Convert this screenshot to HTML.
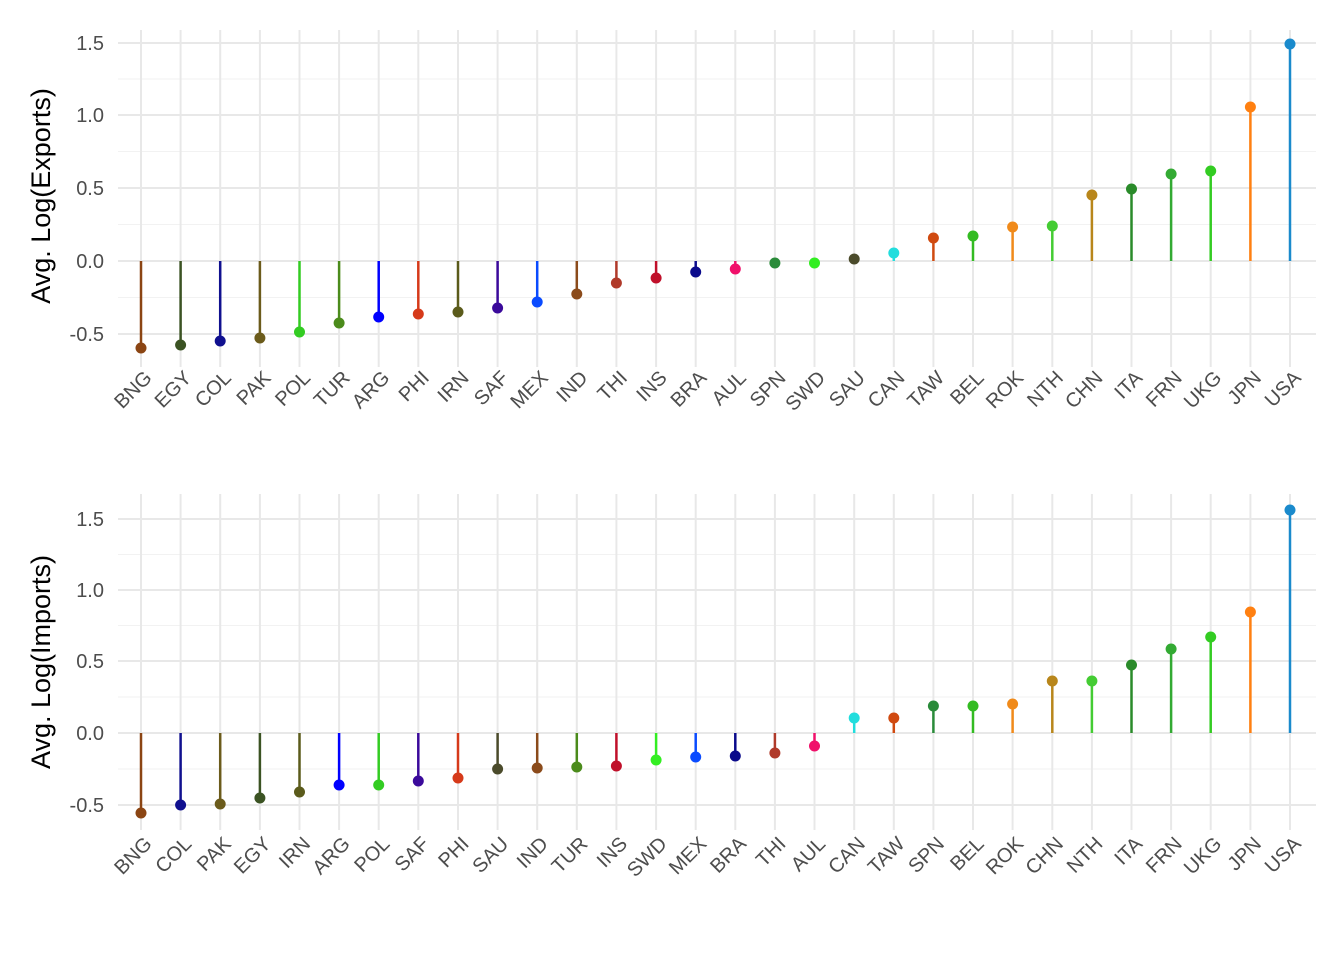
<!DOCTYPE html>
<html><head><meta charset="utf-8"><style>body{margin:0;background:#fff}svg{display:block}</style></head><body>
<svg width="1344" height="960" xmlns="http://www.w3.org/2000/svg" font-family="Liberation Sans, Arial, sans-serif">
<rect width="1344" height="960" fill="#fff"/>
<g stroke="#f2f2f2" stroke-width="1">
<line x1="118" x2="1316" y1="297.5" y2="297.5"/><line x1="118" x2="1316" y1="224.5" y2="224.5"/><line x1="118" x2="1316" y1="151.5" y2="151.5"/><line x1="118" x2="1316" y1="79" y2="79"/>
<line x1="118" x2="1316" y1="769" y2="769"/><line x1="118" x2="1316" y1="697" y2="697"/><line x1="118" x2="1316" y1="625.5" y2="625.5"/><line x1="118" x2="1316" y1="554.5" y2="554.5"/>
</g>
<g stroke="#e8e8e8" stroke-width="2">
<line x1="118" x2="1316" y1="43" y2="43"/><line x1="118" x2="1316" y1="115" y2="115"/><line x1="118" x2="1316" y1="188" y2="188"/><line x1="118" x2="1316" y1="261" y2="261"/><line x1="118" x2="1316" y1="334" y2="334"/>
<line x1="118" x2="1316" y1="519" y2="519"/><line x1="118" x2="1316" y1="590" y2="590"/><line x1="118" x2="1316" y1="661" y2="661"/><line x1="118" x2="1316" y1="733" y2="733"/><line x1="118" x2="1316" y1="805" y2="805"/>
</g>
<g stroke="#e8e8e8" stroke-width="2">
<path d="M141 30V367M180.6 30V367M220.2 30V367M259.9 30V367M299.5 30V367M339.1 30V367M378.7 30V367M418.3 30V367M458 30V367M497.6 30V367M537.2 30V367M576.8 30V367M616.4 30V367M656.1 30V367M695.7 30V367M735.3 30V367M774.9 30V367M814.5 30V367M854.2 30V367M893.8 30V367M933.4 30V367M973 30V367M1012.6 30V367M1052.3 30V367M1091.9 30V367M1131.5 30V367M1171.1 30V367M1210.7 30V367M1250.4 30V367M1290 30V367"/>
<path d="M141 494V830M180.6 494V830M220.2 494V830M259.9 494V830M299.5 494V830M339.1 494V830M378.7 494V830M418.3 494V830M458 494V830M497.6 494V830M537.2 494V830M576.8 494V830M616.4 494V830M656.1 494V830M695.7 494V830M735.3 494V830M774.9 494V830M814.5 494V830M854.2 494V830M893.8 494V830M933.4 494V830M973 494V830M1012.6 494V830M1052.3 494V830M1091.9 494V830M1131.5 494V830M1171.1 494V830M1210.7 494V830M1250.4 494V830M1290 494V830"/>
</g>
<g font-size="20" fill="#4d4d4d" text-anchor="end">
<text x="104" y="50">1.5</text><text x="104" y="122">1.0</text><text x="104" y="195">0.5</text><text x="104" y="268">0.0</text><text x="104" y="341">-0.5</text>
<text x="104" y="526">1.5</text><text x="104" y="597">1.0</text><text x="104" y="668">0.5</text><text x="104" y="740">0.0</text><text x="104" y="812">-0.5</text>
</g>
<text transform="translate(50,196) rotate(-90)" font-size="27" text-anchor="middle" fill="#000">Avg. Log(Exports)</text>
<text transform="translate(50,662) rotate(-90)" font-size="27" text-anchor="middle" fill="#000">Avg. Log(Imports)</text>
<g stroke-width="2.5">
<line x1="141" x2="141" y1="261" y2="348" stroke="#8B4513"/>
<line x1="180.6" x2="180.6" y1="261" y2="345" stroke="#3B5323"/>
<line x1="220.2" x2="220.2" y1="261" y2="341" stroke="#10108F"/>
<line x1="259.9" x2="259.9" y1="261" y2="338" stroke="#6B5B1B"/>
<line x1="299.5" x2="299.5" y1="261" y2="332" stroke="#33CC22"/>
<line x1="339.1" x2="339.1" y1="261" y2="323" stroke="#4B8B1B"/>
<line x1="378.7" x2="378.7" y1="261" y2="317" stroke="#0000FF"/>
<line x1="418.3" x2="418.3" y1="261" y2="314" stroke="#D63A1A"/>
<line x1="458" x2="458" y1="261" y2="312" stroke="#5B5B1B"/>
<line x1="497.6" x2="497.6" y1="261" y2="308" stroke="#3B0A9B"/>
<line x1="537.2" x2="537.2" y1="261" y2="302" stroke="#0A4BFF"/>
<line x1="576.8" x2="576.8" y1="261" y2="294" stroke="#8B4B1B"/>
<line x1="616.4" x2="616.4" y1="261" y2="283" stroke="#B03A2A"/>
<line x1="656.1" x2="656.1" y1="261" y2="278" stroke="#C0102A"/>
<line x1="695.7" x2="695.7" y1="261" y2="272" stroke="#0A0A8B"/>
<line x1="735.3" x2="735.3" y1="261" y2="269" stroke="#F0106A"/>
<line x1="854.2" x2="854.2" y1="261" y2="259" stroke="#4B4B2B"/>
<line x1="893.8" x2="893.8" y1="261" y2="253" stroke="#22DDDD"/>
<line x1="933.4" x2="933.4" y1="261" y2="238" stroke="#D04A10"/>
<line x1="973" x2="973" y1="261" y2="236" stroke="#33BB22"/>
<line x1="1012.6" x2="1012.6" y1="261" y2="227" stroke="#F08A1A"/>
<line x1="1052.3" x2="1052.3" y1="261" y2="226" stroke="#44CC33"/>
<line x1="1091.9" x2="1091.9" y1="261" y2="195" stroke="#B8861B"/>
<line x1="1131.5" x2="1131.5" y1="261" y2="189" stroke="#2A8B2A"/>
<line x1="1171.1" x2="1171.1" y1="261" y2="174" stroke="#33AA33"/>
<line x1="1210.7" x2="1210.7" y1="261" y2="171" stroke="#33CC22"/>
<line x1="1250.4" x2="1250.4" y1="261" y2="107" stroke="#FF8011"/>
<line x1="1290" x2="1290" y1="261" y2="44" stroke="#1A8ACC"/>
</g>
<g>
<circle cx="141" cy="348" r="5.5" fill="#8B4513"/>
<circle cx="180.6" cy="345" r="5.5" fill="#3B5323"/>
<circle cx="220.2" cy="341" r="5.5" fill="#10108F"/>
<circle cx="259.9" cy="338" r="5.5" fill="#6B5B1B"/>
<circle cx="299.5" cy="332" r="5.5" fill="#33CC22"/>
<circle cx="339.1" cy="323" r="5.5" fill="#4B8B1B"/>
<circle cx="378.7" cy="317" r="5.5" fill="#0000FF"/>
<circle cx="418.3" cy="314" r="5.5" fill="#D63A1A"/>
<circle cx="458" cy="312" r="5.5" fill="#5B5B1B"/>
<circle cx="497.6" cy="308" r="5.5" fill="#3B0A9B"/>
<circle cx="537.2" cy="302" r="5.5" fill="#0A4BFF"/>
<circle cx="576.8" cy="294" r="5.5" fill="#8B4B1B"/>
<circle cx="616.4" cy="283" r="5.5" fill="#B03A2A"/>
<circle cx="656.1" cy="278" r="5.5" fill="#C0102A"/>
<circle cx="695.7" cy="272" r="5.5" fill="#0A0A8B"/>
<circle cx="735.3" cy="269" r="5.5" fill="#F0106A"/>
<circle cx="774.9" cy="263" r="5.5" fill="#2A8B3A"/>
<circle cx="814.5" cy="263" r="5.5" fill="#33EE22"/>
<circle cx="854.2" cy="259" r="5.5" fill="#4B4B2B"/>
<circle cx="893.8" cy="253" r="5.5" fill="#22DDDD"/>
<circle cx="933.4" cy="238" r="5.5" fill="#D04A10"/>
<circle cx="973" cy="236" r="5.5" fill="#33BB22"/>
<circle cx="1012.6" cy="227" r="5.5" fill="#F08A1A"/>
<circle cx="1052.3" cy="226" r="5.5" fill="#44CC33"/>
<circle cx="1091.9" cy="195" r="5.5" fill="#B8861B"/>
<circle cx="1131.5" cy="189" r="5.5" fill="#2A8B2A"/>
<circle cx="1171.1" cy="174" r="5.5" fill="#33AA33"/>
<circle cx="1210.7" cy="171" r="5.5" fill="#33CC22"/>
<circle cx="1250.4" cy="107" r="5.5" fill="#FF8011"/>
<circle cx="1290" cy="44" r="5.5" fill="#1A8ACC"/>
</g>
<g stroke-width="2.5">
<line x1="141" x2="141" y1="733" y2="813" stroke="#8B4513"/>
<line x1="180.6" x2="180.6" y1="733" y2="805" stroke="#10108F"/>
<line x1="220.2" x2="220.2" y1="733" y2="804" stroke="#6B5B1B"/>
<line x1="259.9" x2="259.9" y1="733" y2="798" stroke="#3B5323"/>
<line x1="299.5" x2="299.5" y1="733" y2="792" stroke="#5B5B1B"/>
<line x1="339.1" x2="339.1" y1="733" y2="785" stroke="#0000FF"/>
<line x1="378.7" x2="378.7" y1="733" y2="785" stroke="#33CC22"/>
<line x1="418.3" x2="418.3" y1="733" y2="781" stroke="#3B0A9B"/>
<line x1="458" x2="458" y1="733" y2="778" stroke="#D63A1A"/>
<line x1="497.6" x2="497.6" y1="733" y2="769" stroke="#4B4B2B"/>
<line x1="537.2" x2="537.2" y1="733" y2="768" stroke="#8B4B1B"/>
<line x1="576.8" x2="576.8" y1="733" y2="767" stroke="#4B8B1B"/>
<line x1="616.4" x2="616.4" y1="733" y2="766" stroke="#C0102A"/>
<line x1="656.1" x2="656.1" y1="733" y2="760" stroke="#33EE22"/>
<line x1="695.7" x2="695.7" y1="733" y2="757" stroke="#0A4BFF"/>
<line x1="735.3" x2="735.3" y1="733" y2="756" stroke="#0A0A8B"/>
<line x1="774.9" x2="774.9" y1="733" y2="753" stroke="#B03A2A"/>
<line x1="814.5" x2="814.5" y1="733" y2="746" stroke="#F0106A"/>
<line x1="854.2" x2="854.2" y1="733" y2="718" stroke="#22DDDD"/>
<line x1="893.8" x2="893.8" y1="733" y2="718" stroke="#D04A10"/>
<line x1="933.4" x2="933.4" y1="733" y2="706" stroke="#2A8B3A"/>
<line x1="973" x2="973" y1="733" y2="706" stroke="#33BB22"/>
<line x1="1012.6" x2="1012.6" y1="733" y2="704" stroke="#F08A1A"/>
<line x1="1052.3" x2="1052.3" y1="733" y2="681" stroke="#B8861B"/>
<line x1="1091.9" x2="1091.9" y1="733" y2="681" stroke="#44CC33"/>
<line x1="1131.5" x2="1131.5" y1="733" y2="665" stroke="#2A8B2A"/>
<line x1="1171.1" x2="1171.1" y1="733" y2="649" stroke="#33AA33"/>
<line x1="1210.7" x2="1210.7" y1="733" y2="637" stroke="#33CC22"/>
<line x1="1250.4" x2="1250.4" y1="733" y2="612" stroke="#FF8011"/>
<line x1="1290" x2="1290" y1="733" y2="510" stroke="#1A8ACC"/>
</g>
<g>
<circle cx="141" cy="813" r="5.5" fill="#8B4513"/>
<circle cx="180.6" cy="805" r="5.5" fill="#10108F"/>
<circle cx="220.2" cy="804" r="5.5" fill="#6B5B1B"/>
<circle cx="259.9" cy="798" r="5.5" fill="#3B5323"/>
<circle cx="299.5" cy="792" r="5.5" fill="#5B5B1B"/>
<circle cx="339.1" cy="785" r="5.5" fill="#0000FF"/>
<circle cx="378.7" cy="785" r="5.5" fill="#33CC22"/>
<circle cx="418.3" cy="781" r="5.5" fill="#3B0A9B"/>
<circle cx="458" cy="778" r="5.5" fill="#D63A1A"/>
<circle cx="497.6" cy="769" r="5.5" fill="#4B4B2B"/>
<circle cx="537.2" cy="768" r="5.5" fill="#8B4B1B"/>
<circle cx="576.8" cy="767" r="5.5" fill="#4B8B1B"/>
<circle cx="616.4" cy="766" r="5.5" fill="#C0102A"/>
<circle cx="656.1" cy="760" r="5.5" fill="#33EE22"/>
<circle cx="695.7" cy="757" r="5.5" fill="#0A4BFF"/>
<circle cx="735.3" cy="756" r="5.5" fill="#0A0A8B"/>
<circle cx="774.9" cy="753" r="5.5" fill="#B03A2A"/>
<circle cx="814.5" cy="746" r="5.5" fill="#F0106A"/>
<circle cx="854.2" cy="718" r="5.5" fill="#22DDDD"/>
<circle cx="893.8" cy="718" r="5.5" fill="#D04A10"/>
<circle cx="933.4" cy="706" r="5.5" fill="#2A8B3A"/>
<circle cx="973" cy="706" r="5.5" fill="#33BB22"/>
<circle cx="1012.6" cy="704" r="5.5" fill="#F08A1A"/>
<circle cx="1052.3" cy="681" r="5.5" fill="#B8861B"/>
<circle cx="1091.9" cy="681" r="5.5" fill="#44CC33"/>
<circle cx="1131.5" cy="665" r="5.5" fill="#2A8B2A"/>
<circle cx="1171.1" cy="649" r="5.5" fill="#33AA33"/>
<circle cx="1210.7" cy="637" r="5.5" fill="#33CC22"/>
<circle cx="1250.4" cy="612" r="5.5" fill="#FF8011"/>
<circle cx="1290" cy="510" r="5.5" fill="#1A8ACC"/>
</g>
<g font-size="20" fill="#4d4d4d" text-anchor="end">
<text transform="translate(153,379) rotate(-45)">BNG</text>
<text transform="translate(192.6,379) rotate(-45)">EGY</text>
<text transform="translate(232.2,379) rotate(-45)">COL</text>
<text transform="translate(271.9,379) rotate(-45)">PAK</text>
<text transform="translate(311.5,379) rotate(-45)">POL</text>
<text transform="translate(351.1,379) rotate(-45)">TUR</text>
<text transform="translate(390.7,379) rotate(-45)">ARG</text>
<text transform="translate(430.3,379) rotate(-45)">PHI</text>
<text transform="translate(470,379) rotate(-45)">IRN</text>
<text transform="translate(509.6,379) rotate(-45)">SAF</text>
<text transform="translate(549.2,379) rotate(-45)">MEX</text>
<text transform="translate(588.8,379) rotate(-45)">IND</text>
<text transform="translate(628.4,379) rotate(-45)">THI</text>
<text transform="translate(668.1,379) rotate(-45)">INS</text>
<text transform="translate(707.7,379) rotate(-45)">BRA</text>
<text transform="translate(747.3,379) rotate(-45)">AUL</text>
<text transform="translate(786.9,379) rotate(-45)">SPN</text>
<text transform="translate(826.5,379) rotate(-45)">SWD</text>
<text transform="translate(866.2,379) rotate(-45)">SAU</text>
<text transform="translate(905.8,379) rotate(-45)">CAN</text>
<text transform="translate(945.4,379) rotate(-45)">TAW</text>
<text transform="translate(985,379) rotate(-45)">BEL</text>
<text transform="translate(1024.6,379) rotate(-45)">ROK</text>
<text transform="translate(1064.3,379) rotate(-45)">NTH</text>
<text transform="translate(1103.9,379) rotate(-45)">CHN</text>
<text transform="translate(1143.5,379) rotate(-45)">ITA</text>
<text transform="translate(1183.1,379) rotate(-45)">FRN</text>
<text transform="translate(1222.7,379) rotate(-45)">UKG</text>
<text transform="translate(1262.4,379) rotate(-45)">JPN</text>
<text transform="translate(1302,379) rotate(-45)">USA</text>
<text transform="translate(153,845) rotate(-45)">BNG</text>
<text transform="translate(192.6,845) rotate(-45)">COL</text>
<text transform="translate(232.2,845) rotate(-45)">PAK</text>
<text transform="translate(271.9,845) rotate(-45)">EGY</text>
<text transform="translate(311.5,845) rotate(-45)">IRN</text>
<text transform="translate(351.1,845) rotate(-45)">ARG</text>
<text transform="translate(390.7,845) rotate(-45)">POL</text>
<text transform="translate(430.3,845) rotate(-45)">SAF</text>
<text transform="translate(470,845) rotate(-45)">PHI</text>
<text transform="translate(509.6,845) rotate(-45)">SAU</text>
<text transform="translate(549.2,845) rotate(-45)">IND</text>
<text transform="translate(588.8,845) rotate(-45)">TUR</text>
<text transform="translate(628.4,845) rotate(-45)">INS</text>
<text transform="translate(668.1,845) rotate(-45)">SWD</text>
<text transform="translate(707.7,845) rotate(-45)">MEX</text>
<text transform="translate(747.3,845) rotate(-45)">BRA</text>
<text transform="translate(786.9,845) rotate(-45)">THI</text>
<text transform="translate(826.5,845) rotate(-45)">AUL</text>
<text transform="translate(866.2,845) rotate(-45)">CAN</text>
<text transform="translate(905.8,845) rotate(-45)">TAW</text>
<text transform="translate(945.4,845) rotate(-45)">SPN</text>
<text transform="translate(985,845) rotate(-45)">BEL</text>
<text transform="translate(1024.6,845) rotate(-45)">ROK</text>
<text transform="translate(1064.3,845) rotate(-45)">CHN</text>
<text transform="translate(1103.9,845) rotate(-45)">NTH</text>
<text transform="translate(1143.5,845) rotate(-45)">ITA</text>
<text transform="translate(1183.1,845) rotate(-45)">FRN</text>
<text transform="translate(1222.7,845) rotate(-45)">UKG</text>
<text transform="translate(1262.4,845) rotate(-45)">JPN</text>
<text transform="translate(1302,845) rotate(-45)">USA</text>
</g>
</svg>
</body></html>
